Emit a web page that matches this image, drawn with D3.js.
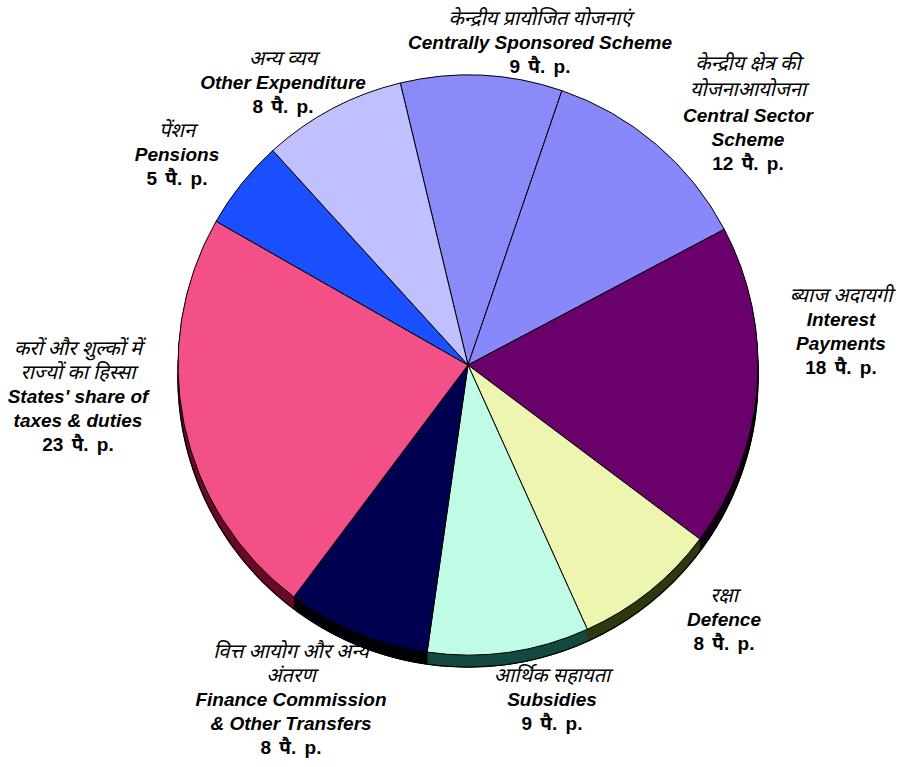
<!DOCTYPE html>
<html><head><meta charset="utf-8">
<script src="https://cdn.jsdelivr.net/npm/d3@7"></script>
<style>
html,body{margin:0;padding:0;background:#fff;}
svg{display:block;}
.en{font-family:"Liberation Sans",Arial,sans-serif;font-weight:bold;font-style:italic;font-size:19px;fill:#000;}
.hi{font-family:"Noto Sans Devanagari","Lohit Devanagari","Noto Sans","DejaVu Sans",sans-serif;font-style:italic;font-size:20px;fill:#000;}
.val{font-family:"Liberation Sans",Arial,"Noto Sans Devanagari","Noto Sans",sans-serif;font-weight:bold;font-size:19px;fill:#000;word-spacing:3px;}
</style></head>
<body>
<svg id="c" width="899" height="767"></svg>
<script>
// ---- data ----
const categoriesEn = [
  ["Centrally Sponsored Scheme"],
  ["Central Sector", "Scheme"],
  ["Interest", "Payments"],
  ["Defence"],
  ["Subsidies"],
  ["Finance Commission", "& Other Transfers"],
  ["States' share of", "taxes & duties"],
  ["Pensions"],
  ["Other Expenditure"]
];
const categoriesHi = [
  ["केन्द्रीय प्रायोजित योजनाएं"],
  ["केन्द्रीय क्षेत्र की", "योजनाआयोजना"],
  ["ब्याज अदायगी"],
  ["रक्षा"],
  ["आर्थिक सहायता"],
  ["वित्त आयोग और अन्य", "अंतरण"],
  ["करों और शुल्कों में", "राज्यों का हिस्सा"],
  ["पेंशन"],
  ["अन्य व्यय"]
];
const values = [9, 12, 18, 8, 9, 8, 23, 5, 8];
const unitLabel = "पै. p.";
const topColors  = ["#8a8af8", "#8888fa", "#6a006a", "#edf5b0", "#c0fbe6", "#000050", "#f25086", "#1a50ff", "#c0c0ff"];
const sideColors = ["#3a3a7a", "#3a3a7a", "#120012", "#2c3a0e", "#144a40", "#000008", "#6a0c26", "#0a2080", "#50507a"];

// ---- layout ----
const cx = 468, cy = 365, R = 290, depth = 12;
const startDeg = -13.5;
// label anchors: x (center), y of first line baseline
const labelLayout = [
  {x: 540, y: 25},
  {x: 748, y: 70},
  {x: 841, y: 302},
  {x: 724, y: 602},
  {x: 552, y: 682},
  {x: 291, y: 658},
  {x: 78,  y: 355},
  {x: 177, y: 137},
  {x: 283, y: 65}
];
const lineStep = 24;

const svg = d3.select("#c");
const pie = d3.pie().sort(null).value(d => d)
  .startAngle(startDeg * Math.PI / 180)
  .endAngle((startDeg + 360) * Math.PI / 180);
const arcs = pie(values);
const arc = d3.arc().innerRadius(0).outerRadius(R);

const g = svg.append("g").attr("transform", `translate(${cx},${cy})`);

// side wall: bottom outline then stacked layers
g.append("circle").attr("cx", 0).attr("cy", depth).attr("r", R)
  .attr("fill", "#000").attr("stroke", "#000").attr("stroke-width", 1.5);
for (let k = depth; k >= 1; k--) {
  g.append("g").attr("transform", `translate(0,${k})`)
    .selectAll("path").data(arcs).join("path")
    .attr("d", arc)
    .attr("fill", (d, i) => sideColors[i])
    .attr("stroke", (d, i) => sideColors[i])
    .attr("stroke-width", 0.5);
}
g.append("path")
  .attr("d", d3.arc().innerRadius(R - 0.5).outerRadius(R + 0.5)
    .startAngle(Math.PI * 0.5).endAngle(Math.PI * 1.5)())
  .attr("transform", `translate(0,${depth})`)
  .attr("fill", "#000");

// top face
g.append("g").selectAll("path").data(arcs).join("path")
  .attr("d", arc)
  .attr("fill", (d, i) => topColors[i])
  .attr("stroke", "#000")
  .attr("stroke-width", 1);

// labels
arcs.forEach((d, i) => {
  const L = labelLayout[i];
  const t = svg.append("g");
  let y = L.y;
  categoriesHi[i].forEach(s => {
    t.append("text").attr("class", "hi").attr("x", L.x).attr("y", y)
      .attr("text-anchor", "middle").text(s);
    y += lineStep + (i === 1 ? 2 : 0);
  });
  categoriesEn[i].forEach(s => {
    t.append("text").attr("class", "en").attr("x", L.x).attr("y", y)
      .attr("text-anchor", "middle").text(s);
    y += lineStep;
  });
  t.append("text").attr("class", "val").attr("x", L.x).attr("y", y)
    .attr("text-anchor", "middle").text(values[i] + " " + unitLabel);
});
</script>
</body></html>
